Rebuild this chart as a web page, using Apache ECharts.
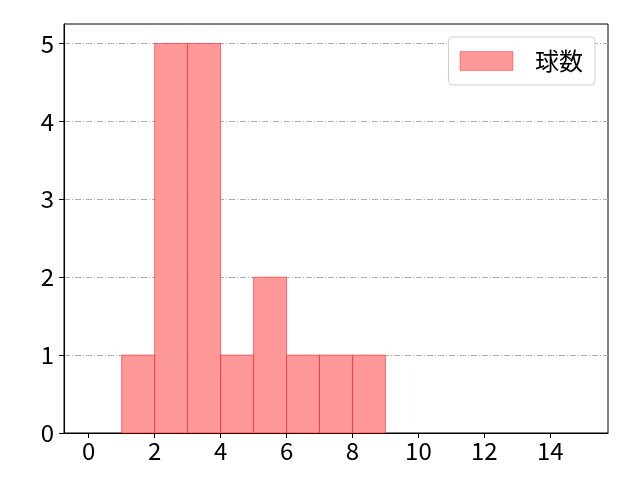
<!DOCTYPE html>
<html><head><meta charset="utf-8">
<script src="https://cdn.jsdelivr.net/npm/echarts@6/dist/echarts.min.js"></script>
<style>html,body{margin:0;padding:0;background:#fff}#c{width:640px;height:480px}</style>
</head><body><div id="c"></div>
<script>
const binStarts = [1, 2, 3, 4, 5, 6, 7, 8];
const binWidth = 1;
const counts = [1, 5, 5, 1, 2, 1, 1, 1];
const xTicks = [0, 2, 4, 6, 8, 10, 12, 14];
const yTicks = [0, 1, 2, 3, 4, 5];
const seriesName = '球数';

const data = binStarts.map((s, i) => [s, s + binWidth, counts[i]]);
const font = '"Noto Sans CJK JP", "Noto Sans", sans-serif';
const chart = echarts.init(document.getElementById('c'));
chart.setOption({
  animation: false,
  grid: {left: 64, right: 32, top: 24, bottom: 47, show: true, borderColor: '#000', borderWidth: 1, backgroundColor: 'transparent'},
  legend: {
    right: 45, top: 37,
    orient: 'vertical',
    padding: [12, 12, 12, 11],
    itemWidth: 53, itemHeight: 19,
    borderColor: '#d0d0d0', borderWidth: 1, borderRadius: 4,
    backgroundColor: '#fff',
    textStyle: {fontFamily: font, fontSize: 24, color: '#000', padding: [0, 0, 0, 17]},
    data: [{name: seriesName, icon: 'rect', itemStyle: {color: '#ff9999', borderColor: 'rgba(255,0,0,0.35)', borderWidth: 1}}]
  },
  xAxis: {
    type: 'value', min: -0.75, max: 15.75,
    axisLine: {show: true, onZero: false, lineStyle: {color: '#000', width: 1}},
    axisTick: {show: true, length: 5, customValues: xTicks, lineStyle: {color: '#000'}},
    axisLabel: {customValues: xTicks, fontFamily: font, fontSize: 24, color: '#000', margin: 6},
    splitLine: {show: false}
  },
  yAxis: {
    type: 'value', min: 0, max: 5.25, interval: 1,
    axisLine: {show: true, onZero: false, lineStyle: {color: '#000', width: 1}},
    axisTick: {show: true, length: 5, customValues: yTicks, lineStyle: {color: '#000'}},
    axisLabel: {customValues: yTicks, fontFamily: font, fontSize: 24, color: '#000', margin: 10},
    splitLine: {show: true, lineStyle: {color: '#b0b0b0', width: 1, type: [6, 2, 1, 2]}}
  },
  series: [{
    name: seriesName,
    type: 'custom',
    itemStyle: {color: '#ff9999'},
    renderItem: function (params, api) {
      const p0 = api.coord([api.value(0), 0]);
      const p1 = api.coord([api.value(1), api.value(2)]);
      return {
        type: 'rect',
        shape: {x: p0[0], y: p1[1], width: p1[0] - p0[0], height: p0[1] - p1[1]},
        style: {fill: '#ff9999', stroke: 'rgba(255,0,0,0.5)', lineWidth: 1}
      };
    },
    encode: {x: [0, 1], y: 2},
    data: data
  }]
});
</script></body></html>
